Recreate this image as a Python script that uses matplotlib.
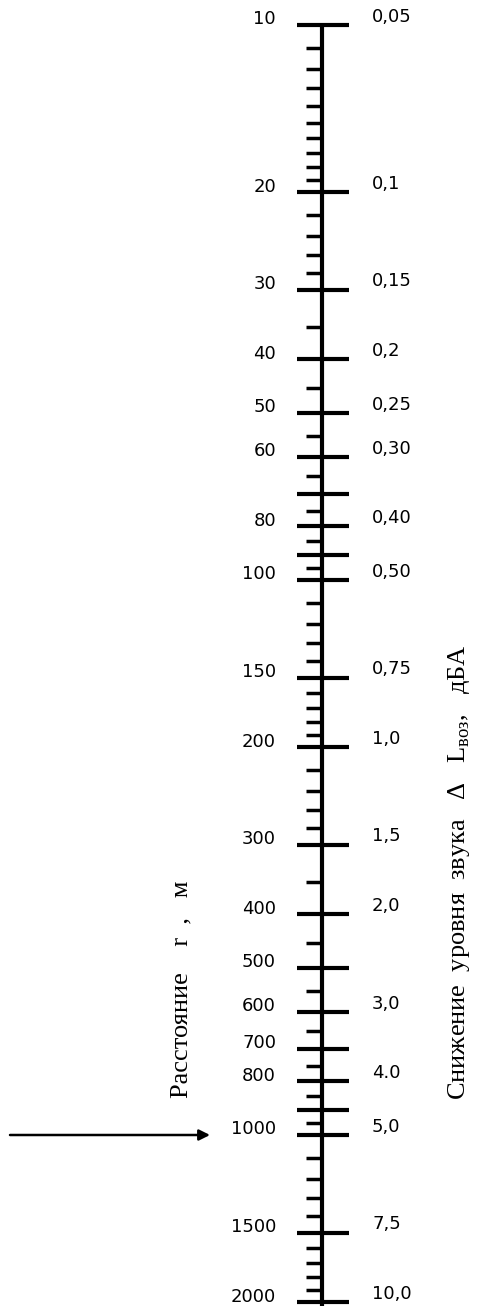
import matplotlib
matplotlib.use('Agg')
import matplotlib.pyplot as plt
import numpy as np

# --------------[DATA]----------------
# distance r, m  (labelled on the left side)
r_labels = [10, 20, 30, 40, 50, 60, 80, 100, 150, 200, 300, 400, 500, 600, 700, 800, 1000, 1500, 2000]
# long ticks without a label
r_long_extra = [70, 90, 900]
# short ticks
r_minor = [11, 12, 13, 14, 15, 16, 17, 18, 19,
           22, 24, 26, 28, 35, 45, 55, 65, 75, 85, 95,
           110, 120, 130, 140, 160, 170, 180, 190,
           220, 240, 260, 280, 350, 450, 550, 650, 750, 850, 950,
           1100, 1200, 1300, 1400, 1600, 1700, 1800, 1900]
# sound level reduction dL, dBA (labelled on the right side)
dl_r = [10, 20, 30, 40, 50, 60, 80, 100, 150, 200, 300, 400, 600, 800, 1000, 1500, 2000]
dl_text = ['0,05', '0,1', '0,15', '0,2', '0,25', '0,30', '0,40', '0,50', '0,75',
           '1,0', '1,5', '2,0', '3,0', '4.0', '5,0', '7,5', '10,0']
r_arrow = 1000

plt.rcParams['mathtext.fontset'] = 'custom'
plt.rcParams['mathtext.rm'] = 'Liberation Serif'

W, H = 480, 1311
fig = plt.figure(figsize=(W / 100, H / 100), dpi=100)
ax = fig.add_axes([0, 0, 1, 1])
ax.set_xlim(0, W)
ax.set_yscale('log')
# 10 at 25 px from top, 555 px per decade
dec = 555.0
ax.set_ylim(10 * 10 ** ((H - 25) / dec), 10 * 10 ** (-25 / dec))
ax.axis('off')

x0 = 322
ax.plot([x0, x0], [r_labels[0], r_labels[-1] * 1.015], color='black', lw=3, solid_capstyle='butt')
ax.hlines(r_labels + r_long_extra, x0 - 25, x0 + 27, color='black', lw=3)
ax.hlines(r_minor, x0 - 16, x0, color='black', lw=2.5)

for r in r_labels:
    ax.annotate(str(r), xy=(276, r), xytext=(0, 4), textcoords='offset points',
                ha='right', va='center', fontsize=13, family='DejaVu Sans', color='black')
for r, t in zip(dl_r, dl_text):
    ax.annotate(t, xy=(372, r), xytext=(0, 6), textcoords='offset points',
                ha='left', va='center', fontsize=13, family='DejaVu Sans', color='black')

# arrow pointing to 1000
ax.annotate('', xy=(210, r_arrow), xytext=(10, r_arrow),
            arrowprops=dict(arrowstyle='-|>', color='black', lw=1.8, mutation_scale=16,
                            shrinkA=0, shrinkB=0))

fig.text(181 / W, 1 - 989 / H, 'Расстояние    r  ,   м', rotation=90, ha='center', va='center',
         fontsize=19, family='Liberation Serif')
fig.text(459 / W, 1 - 872 / H, r'Снижение  уровня  звука   $\Delta$   L$_{\mathrm{воз}}$,   дБА', rotation=90,
         ha='center', va='center', fontsize=19, family='Liberation Serif')

fig.savefig('out.png', dpi=100, facecolor='white')
